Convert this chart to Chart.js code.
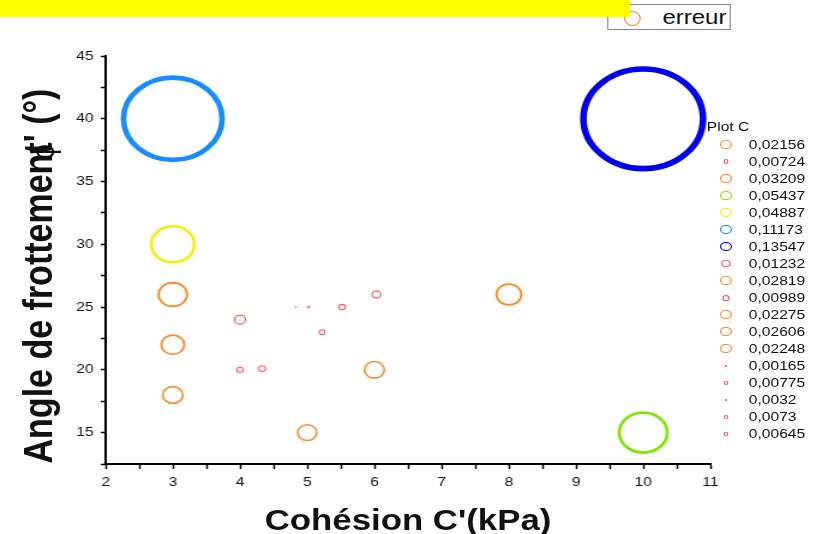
<!DOCTYPE html>
<html><head><meta charset="utf-8">
<script src="https://cdn.jsdelivr.net/npm/chart.js@4/dist/chart.umd.min.js"></script>
<style>
html,body{margin:0;padding:0;background:#fff;overflow:hidden;width:813px;height:534px;}
#stage{position:absolute;left:0;top:0;width:678px;height:534px;transform:scaleX(1.2);transform-origin:0 0;font-family:"Liberation Sans",Arial,sans-serif;color:#111;}
#c{position:absolute;left:0;top:0;width:678px;height:534px;}
#banner{position:absolute;left:0;top:0;width:525px;height:17px;background:#ffff00;z-index:5;}
#errbox{position:absolute;left:506px;top:4px;width:103px;height:26px;border:1px solid #8a8a8a;background:#fff;box-sizing:border-box;z-index:4;}
#errbox .mk{position:absolute;left:13px;top:6px;width:14px;height:15px;border:1.5px solid #ff8c2a;border-radius:50%;box-sizing:border-box;}
#errbox .tx{position:absolute;left:45px;top:0px;font-size:20px;line-height:24px;}
#ytitle{position:absolute;left:31px;top:276px;transform:translate(-50%,-50%) rotate(-90deg);font-weight:bold;font-size:34px;white-space:nowrap;line-height:36px;}
#phi{position:absolute;left:36px;top:152px;transform:translate(-50%,-50%) rotate(-90deg);font-size:28px;white-space:nowrap;line-height:30px;}
#xtitle{position:absolute;left:340px;top:520px;transform:translate(-50%,-50%);font-weight:bold;font-size:29px;white-space:nowrap;line-height:32px;}
#legend{position:absolute;left:0;top:0;}
.lg{position:absolute;font-size:13px;line-height:15px;white-space:nowrap;}
.lm{position:absolute;border-radius:50%;box-sizing:border-box;}
</style>
</head>
<body>
<div id="stage">
  <canvas id="c" width="678" height="534"></canvas>
  <div id="banner"></div>
  <div id="errbox"><span class="mk"></span><span class="tx">erreur</span></div>
  <div id="ytitle">Angle de frottement' (°)</div>
  <div id="phi">ϕ</div>
  <div id="xtitle">Cohésion C'(kPa)</div>
  <div id="legend"></div>
</div>
<script>
// ---- data ----
const cohesion = [5, 4, 3, 10, 3, 3, 10, 4, 8, 6.03, 3, 3, 6, 4.83, 4.33, 5.02, 5.52, 5.22];
const friction = [15, 20, 26, 15, 30, 40, 40, 24, 26, 26, 18, 22, 20, 25, 20.1, 25, 25, 23];
const errors = [0.02156, 0.00724, 0.03209, 0.05437, 0.04887, 0.11173, 0.13547, 0.01232, 0.02819, 0.00989, 0.02275, 0.02606, 0.02248, 0.00165, 0.00775, 0.0032, 0.0073, 0.00645];
const xTicks = [2, 3, 4, 5, 6, 7, 8, 9, 10, 11];
const yTicks = [15, 20, 25, 30, 35, 40, 45];
const legendTitle = 'Plot C';

// ---- styles ----
const ORANGE = 'rgb(255,135,35)', RED = 'rgb(245,90,95)', GREEN = 'rgb(125,230,0)',
      YELLOW = 'rgb(245,240,0)', LBLUE = 'rgb(25,140,255)', DBLUE = 'rgb(0,0,235)';
const colors = [ORANGE, RED, ORANGE, GREEN, YELLOW, LBLUE, DBLUE, RED, ORANGE, RED, ORANGE, ORANGE, ORANGE, RED, RED, RED, RED, RED];
const SIZE = 368;
const FONT = '"Liberation Sans", Arial, sans-serif';

const points = cohesion.map((x, i) => ({x: x, y: friction[i], r: errors[i] * SIZE}));

new Chart(document.getElementById('c'), {
  type: 'bubble',
  data: {datasets: [{
    label: legendTitle,
    data: points,
    backgroundColor: 'rgba(0,0,0,0)',
    borderColor: colors,
    borderWidth: errors.map(v => 0.8 + 35 * v),
    clip: false
  }]},
  options: {
    responsive: false,
    animation: false,
    devicePixelRatio: 1,
    events: [],
    layout: {padding: {top: 56, right: 86, left: 0, bottom: 0}},
    plugins: {legend: {display: false}, tooltip: {enabled: false}},
    scales: {
      x: {
        type: 'linear', min: 2, max: 11,
        afterFit: s => { s.height = 70; },
        afterBuildTicks: s => { s.ticks = []; for (let v = 2; v <= 11.001; v += 0.5) s.ticks.push({value: v}); },
        ticks: {autoSkip: false, maxRotation: 0, padding: 6, color: '#111',
          font: {size: 13, family: FONT},
          callback: v => xTicks.includes(v) ? String(v) : ''},
        grid: {drawOnChartArea: false, drawTicks: true, tickLength: 5, tickColor: '#000', tickWidth: 1.5},
        border: {color: '#000', width: 2}
      },
      y: {
        type: 'linear', min: 12.5, max: 45,
        afterFit: s => { s.width = 88; },
        afterBuildTicks: s => { s.ticks = []; for (let v = 12.5; v <= 45.001; v += 2.5) s.ticks.push({value: v}); },
        ticks: {autoSkip: false, padding: 6, color: '#111',
          font: {size: 13, family: FONT},
          callback: v => yTicks.includes(v) ? String(v) : ''},
        grid: {drawOnChartArea: false, drawTicks: true, tickLength: 4, tickColor: '#000', tickWidth: 1.5},
        border: {color: '#000', width: 2}
      }
    }
  }
});

// ---- side legend ----
const lg = document.getElementById('legend');
const t = document.createElement('div');
t.className = 'lg'; t.textContent = legendTitle;
t.style.left = '589px'; t.style.top = (126.7 - 7.5) + 'px';
lg.appendChild(t);
errors.forEach((v, i) => {
  const cy = 144.3 + i * 17.04;
  const r = Math.max(1, Math.min(v * 300, 4.7));
  const m = document.createElement('span');
  m.className = 'lm';
  m.style.width = (2 * r * 1.05) + 'px';
  m.style.height = (2 * r) + 'px';
  m.style.left = (605 - r * 1.05) + 'px';
  m.style.top = (cy - r) + 'px';
  m.style.border = (r < 1.5 ? 1 : 1.2) + 'px solid ' + colors[i];
  lg.appendChild(m);
  const d = document.createElement('div');
  d.className = 'lg';
  d.textContent = String(v).replace('.', ',');
  d.style.left = '624px';
  d.style.top = (cy - 7.5) + 'px';
  lg.appendChild(d);
});
</script>
</body></html>
